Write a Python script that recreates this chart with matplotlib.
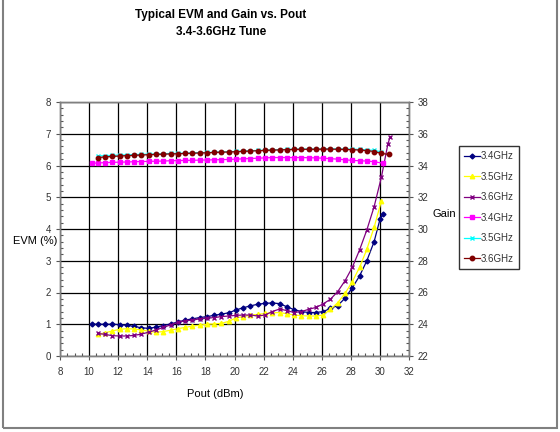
import matplotlib
matplotlib.use("Agg")
import matplotlib.pyplot as plt
from matplotlib.ticker import MultipleLocator
from matplotlib.patches import Rectangle

plt.rcParams["font.family"] = ["Liberation Sans Narrow", "Liberation Sans", "DejaVu Sans"]

# common Pout grid (dBm)
pout = [10.6, 11.1, 11.6, 12.1, 12.6, 13.1, 13.6, 14.1, 14.6, 15.1,
        15.6, 16.1, 16.6, 17.1, 17.6, 18.1, 18.6, 19.1, 19.6, 20.1,
        20.6, 21.1, 21.6, 22.1, 22.6, 23.1, 23.6, 24.1, 24.6, 25.1,
        25.6, 26.1, 26.6, 27.1, 27.6, 28.1, 28.6, 29.1, 29.6, 30.1]

# EVM (%)
pout_evm_34 = [10.2] + pout[:-1] + [30.0, 30.2]
evm_34 = [1.00, 1.00, 1.00, 1.00, 0.99, 0.97, 0.93, 0.89, 0.87, 0.91,
          0.96, 1.01, 1.07, 1.13, 1.17, 1.21, 1.24, 1.28, 1.32, 1.36,
          1.45, 1.52, 1.58, 1.63, 1.66, 1.67, 1.65, 1.55, 1.46, 1.40,
          1.37, 1.37, 1.40, 1.50, 1.59, 1.82, 2.15, 2.52, 3.00, 3.60,
          4.30, 4.47]
pout_evm_35 = pout
evm_35 = [0.68, 0.73, 0.79, 0.84, 0.86, 0.85, 0.82, 0.78, 0.75, 0.77,
          0.81, 0.86, 0.90, 0.94, 0.97, 1.00, 1.01, 1.03, 1.09, 1.20,
          1.24, 1.29, 1.31, 1.34, 1.36, 1.37, 1.33, 1.29, 1.27, 1.26,
          1.26, 1.29, 1.47, 1.68, 1.97, 2.34, 2.79, 3.36, 4.05, 4.88]
pout_evm_36 = pout + [30.55, 30.7]
evm_36 = [0.71, 0.68, 0.64, 0.63, 0.63, 0.65, 0.69, 0.75, 0.82, 0.90,
          0.98, 1.06, 1.11, 1.13, 1.17, 1.19, 1.21, 1.24, 1.26, 1.28,
          1.29, 1.29, 1.26, 1.29, 1.40, 1.48, 1.43, 1.37, 1.40, 1.47,
          1.53, 1.64, 1.79, 2.03, 2.37, 2.79, 3.34, 3.97, 4.70, 5.63,
          6.68, 6.90]

# Gain (dB)
pout_gain_34 = [10.2] + pout[:-1] + [30.2]
gain_34 = [34.14, 34.16, 34.18, 34.20, 34.21, 34.22, 34.24, 34.25, 34.26, 34.27,
           34.28, 34.30, 34.31, 34.32, 34.33, 34.34, 34.35, 34.36, 34.37, 34.38,
           34.40, 34.42, 34.44, 34.46, 34.48, 34.50, 34.50, 34.50, 34.50, 34.50,
           34.49, 34.48, 34.46, 34.43, 34.40, 34.36, 34.32, 34.30, 34.28, 34.24,
           34.14]
pout_gain_35 = pout
gain_35 = [34.60, 34.62, 34.64, 34.66, 34.67, 34.69, 34.70, 34.72, 34.73, 34.74,
           34.76, 34.77, 34.78, 34.80, 34.81, 34.82, 34.84, 34.86, 34.87, 34.89,
           34.91, 34.93, 34.95, 34.97, 34.99, 35.00, 35.02, 35.03, 35.04, 35.04,
           35.04, 35.05, 35.05, 35.05, 35.04, 35.03, 35.01, 34.99, 34.95, 34.86]
pout_gain_36 = pout + [30.6]
gain_36 = [34.50, 34.54, 34.57, 34.60, 34.62, 34.64, 34.66, 34.68, 34.70, 34.71,
           34.73, 34.74, 34.76, 34.77, 34.79, 34.80, 34.82, 34.84, 34.85, 34.87,
           34.89, 34.91, 34.93, 34.95, 34.97, 34.98, 35.00, 35.01, 35.02, 35.02,
           35.02, 35.03, 35.03, 35.02, 35.01, 35.00, 34.97, 34.94, 34.88, 34.76,
           34.70]

fig = plt.figure(figsize=(5.6, 4.32), dpi=100)
ax = fig.add_axes([60 / 560, 76 / 432, 349 / 560, 254 / 432])
ax2 = ax.twinx()

# outer chart border
fig.patches.append(Rectangle((3 / 560, 4 / 432), 554 / 560, 1.0, transform=fig.transFigure,
                             fill=False, edgecolor="#808080", linewidth=1.5))

ms = 3.2
lw = 0.9
h1, = ax.plot(pout_evm_34, evm_34, color="#000080", marker="D", ms=2.5, lw=lw, label="3.4GHz")
h2, = ax.plot(pout_evm_35, evm_35, color="#FFFF00", marker="^", ms=ms, lw=lw, label="3.5GHz")
h3, = ax.plot(pout_evm_36, evm_36, color="#800080", marker="x", ms=ms, mew=1, lw=lw, label="3.6GHz")
h4, = ax2.plot(pout_gain_34, gain_34, color="#FF00FF", marker="s", ms=ms, lw=lw, label="3.4GHz")
h5, = ax2.plot(pout_gain_35, gain_35, color="#00FFFF", marker="x", ms=ms, mew=1, lw=lw, label="3.5GHz")
h6, = ax2.plot(pout_gain_36, gain_36, color="#800000", marker="o", ms=ms, lw=lw, label="3.6GHz")

ax.set_xlim(8, 32)
ax.set_ylim(0, 8)
ax2.set_ylim(22, 38)
ax.xaxis.set_major_locator(MultipleLocator(2))
ax.xaxis.set_minor_locator(MultipleLocator(0.5))
ax.yaxis.set_major_locator(MultipleLocator(1))
ax.yaxis.set_minor_locator(MultipleLocator(0.2))
ax2.yaxis.set_major_locator(MultipleLocator(2))
ax2.yaxis.set_minor_locator(MultipleLocator(0.4))
ax.grid(True, which="major", color="black", linewidth=0.9)
ax.set_axisbelow(True)

for a in (ax, ax2):
    a.tick_params(which="major", direction="out", length=3, width=0.8, labelsize=7,
                  labelcolor="#333333", color="#555555")
    a.tick_params(which="minor", direction="in", length=2, width=0.8, color="#555555")
    for s in a.spines.values():
        s.set_color("#808080")
        s.set_linewidth(1)
ax.tick_params(axis="x", which="major", pad=5)

fig.text(221 / 560, 1 - 15 / 432, "Typical EVM and Gain vs. Pout", ha="center", va="center",
         fontsize=8.5, fontweight="bold")
fig.text(221 / 560, 1 - 32 / 432, "3.4-3.6GHz Tune", ha="center", va="center",
         fontsize=8.5, fontweight="bold")
fig.text(35 / 560, 1 - 241 / 432, "EVM (%)", ha="center", va="center", fontsize=8)
fig.text(444 / 560, 1 - 214 / 432, "Gain", ha="center", va="center", fontsize=8)
fig.text(215 / 560, 1 - 394 / 432, "Pout (dBm)", ha="center", va="center", fontsize=8)

leg = fig.legend([h1, h2, h3, h4, h5, h6], ["3.4GHz", "3.5GHz", "3.6GHz", "3.4GHz", "3.5GHz", "3.6GHz"],
                 loc="upper left", bbox_to_anchor=(459 / 560, 1 - 146 / 432), fontsize=7,
                 frameon=True, fancybox=False, edgecolor="black", handlelength=1.6,
                 handletextpad=0.1, labelspacing=1.08, borderpad=0.55, borderaxespad=0)
leg.get_frame().set_linewidth(1)
for t in leg.get_texts():
    t.set_color("#333333")

fig.savefig("out.png", dpi=100)
